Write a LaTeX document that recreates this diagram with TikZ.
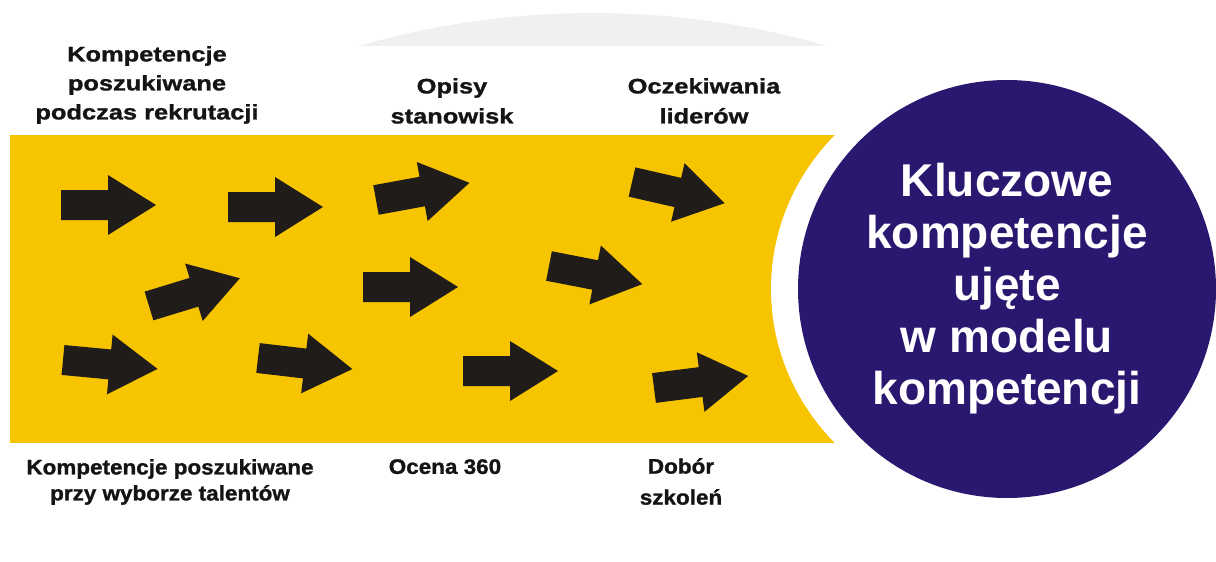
\documentclass[tikz,border=0pt]{standalone}
\usepackage{fontspec}
\setmainfont{Liberation Sans}
\newfontfamily\lblA[FakeStretch=1.21,FakeBold=1.2]{Liberation Sans Bold}
\newfontfamily\lblB[FakeStretch=1.07,FakeBold=1.2]{Liberation Sans Bold}
\newfontfamily\hubfont{Liberation Sans Bold}
\definecolor{bandyellow}{HTML}{F7C400}
\definecolor{hubblue}{HTML}{2A1870}
\definecolor{arrowink}{HTML}{201C1A}
\definecolor{labelink}{HTML}{141414}
\definecolor{wmgray}{HTML}{F0F0F0}
\tikzset{
  blockarrow/.pic={\fill[arrowink] (0,-15) -- (47,-15) -- (47,-30) -- (95,0) -- (47,30) -- (47,15) -- (0,15) -- cycle;},
  toplbl/.style={font=\lblA\fontsize{21}{29}\selectfont, align=center, inner sep=0pt, anchor=north, text=labelink},
  botlbl/.style={font=\lblB\fontsize{21}{26}\selectfont, align=center, inner sep=0pt, anchor=north, text=labelink},
  hub/.style={circle, fill=hubblue, minimum size=418, inner sep=0pt, text=white, align=center,
    font=\hubfont\fontsize{46}{52}\selectfont}
}
\begin{document}
\begin{tikzpicture}[x=1pt,y=-1pt]
\useasboundingbox (0,0) rectangle (1216,562);
% faint arc at the top
\begin{scope}
  \clip (0,0) rectangle (1216,45);
  \fill[wmgray] (593,855) circle[radius=842];
\end{scope}
% yellow band with concave right side
\fill[bandyellow] (10,135) rectangle (835,443);
\fill[white] (1007,289) ellipse[x radius=236, y radius=225];
% hub circle
\node[hub] (hubc) at (1007,289) {Kluczowe\\kompetencje\\ujęte\\w modelu\\kompetencji};
% arrows
\pic[rotate=0]     at (61,205)  {blockarrow};
\pic[rotate=0]     at (228,207) {blockarrow};
\pic[rotate=17]    at (149,306) {blockarrow};
\pic[rotate=-5.4]  at (63,360)  {blockarrow};
\pic[rotate=-6.7]  at (258,358) {blockarrow};
\pic[rotate=10.4]  at (376,200) {blockarrow};
\pic[rotate=0]     at (363,287) {blockarrow};
\pic[rotate=-11]   at (549,266) {blockarrow};
\pic[rotate=-12.9] at (632,182) {blockarrow};
\pic[rotate=0]     at (463,371) {blockarrow};
\pic[rotate=7.3]   at (654,388) {blockarrow};
% labels
\node[toplbl] (recr) at (147,46) {Kompetencje\\poszukiwane\\podczas rekrutacji};
\node[toplbl, font=\lblA\fontsize{21}{30}\selectfont] (opisy) at (452,78) {Opisy\\stanowisk};
\node[toplbl, font=\lblA\fontsize{21}{30}\selectfont] (lider) at (704,78) {Oczekiwania\\liderów};
\node[botlbl] (talent) at (170,459) {Kompetencje poszukiwane\\przy wyborze talentów};
\node[botlbl] (ocena) at (445,459) {Ocena 360};
\node[botlbl, font=\lblB\fontsize{21}{31}\selectfont] (szkol) at (681,458) {Dobór\\szkoleń};
\end{tikzpicture}
\end{document}
